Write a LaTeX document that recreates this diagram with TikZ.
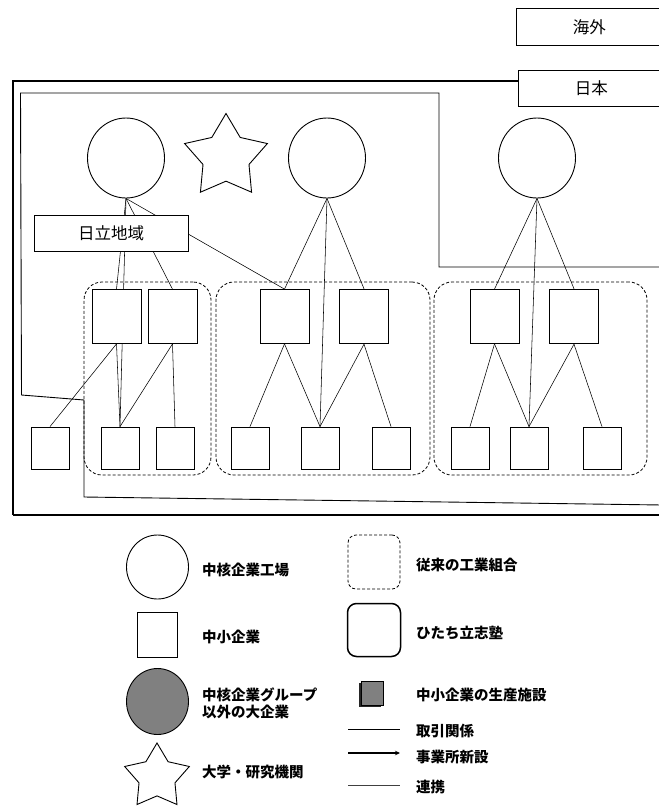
\documentclass[tikz,border=0pt]{standalone}
\usepackage{fontspec}
\newfontfamily\jp{Noto Sans CJK JP}
\usetikzlibrary{shapes.geometric,backgrounds,arrows.meta}
\begin{document}
\begin{tikzpicture}[x=1pt,y=-1pt,
  firm/.style={ellipse,draw,line width=0.9pt,fill=white,minimum width=77pt,minimum height=80pt,inner sep=0pt},
  bigsq/.style={rectangle,draw,line width=0.8pt,fill=white,minimum width=49pt,minimum height=54pt,inner sep=0pt},
  smallsq/.style={rectangle,draw,line width=0.8pt,fill=white,minimum width=38pt,minimum height=42pt,inner sep=0pt},
  ritsu/.style={bigsq,line width=1.4pt},
  grp/.style={rectangle,draw,densely dashed,line width=0.8pt,rounded corners=18pt,inner sep=0pt},
  link/.style={line width=0.55pt},
  region/.style={line width=0.9pt},
  lab/.style={rectangle,draw,line width=0.9pt,fill=white,inner sep=0pt,font=\jp\fontsize{16.5}{16.5}\selectfont},
  leg/.style={font=\jp\bfseries\fontsize{14.5}{17}\selectfont,anchor=west,align=left,inner sep=0pt},
  starshape/.style={star,star points=5,star point ratio=1.8,draw,line width=0.9pt,fill=white,inner sep=0pt},
]
\useasboundingbox (0,0) rectangle (659,807);

% labels overseas / Japan
\node[lab,minimum width=146pt,minimum height=37pt,anchor=north west] (kaigai) at (516,8) {海外};
\node[lab,minimum width=146pt,minimum height=36pt,anchor=north west] (nihon) at (518,70) {日本};

% core firms
\node[firm] (c1) at (126,158) {};
\node[firm] (c2) at (327,158) {};
\node[firm] (c3) at (537,158) {};
\node[starshape,minimum size=87pt] (univ) at (226,157) {};

% groups
\node[grp,minimum width=127pt,minimum height=193pt] (g1) at (147.5,378.5) {};
\node[grp,minimum width=214pt,minimum height=193pt] (g2) at (323,378.5) {};
\node[grp,minimum width=213pt,minimum height=193pt] (g3) at (540.5,378.5) {};

% top squares
\node[bigsq] (A) at (116.5,316.5) {};
\node[bigsq] (B) at (172.5,316.5) {};
\node[bigsq] (C) at (284.5,316.5) {};
\node[ritsu] (D) at (364,316.5) {};
\node[bigsq] (E) at (494.5,316.5) {};
\node[ritsu] (F) at (574,316.5) {};

% bottom squares
\node[smallsq] (L) at (50,448) {};
\node[smallsq] (p1) at (120,448) {};
\node[smallsq] (p2) at (175,448) {};
\node[smallsq] (q1) at (250,448) {};
\node[smallsq] (q2) at (320,448) {};
\node[smallsq] (q3) at (391,448) {};
\node[smallsq] (r1) at (470,448) {};
\node[smallsq] (r2) at (529,448) {};
\node[smallsq] (r3) at (602,448) {};

% Hitachi area label
\node[lab,minimum width=154pt,minimum height=36pt] (hitachi) at (111,233.5) {日立地域};

\begin{scope}[on background layer]
  % Japan outline
  \coordinate (jpTL) at (13,81);
  \draw[line width=1.1pt] (nihon.west |- jpTL) -- (jpTL) -- (13,515);
  \draw[line width=2.6pt] (12.5,515) -- (662,515);
  % Hitachi area outline
  \draw[region] (662,267) -- (439,267) -- (439,93) -- (20.5,93) -- (21.5,395) -- (84,400) -- (84,497) -- (662,505);
  % connectors
  \draw[link] (c1.south) -- (A.north);
  \draw[link] (c1.south) -- (p1.north);
  \draw[link] (c1.south) -- (B.north);
  \draw[link] (c1.south) -- (C.north);
  \draw[link] (A.south) -- (p1.north);
  \draw[link] (A.south) -- (L.north);
  \draw[link] (B.south) -- (p1.north);
  \draw[link] (B.south) -- (p2.north);
  \draw[link] (c2.south) -- (C.north);
  \draw[link] (c2.south) -- (D.north);
  \draw[link] (c2.south) -- (q2.north);
  \draw[link] (C.south) -- (q1.north);
  \draw[link] (C.south) -- (q2.north);
  \draw[link] (D.south) -- (q2.north);
  \draw[link] (D.south) -- (q3.north);
  \draw[link] (c3.south) -- (E.north);
  \draw[link] (c3.south) -- (F.north);
  \draw[link] (c3.south) -- (r2.north);
  \draw[link] (E.south) -- (r1.north);
  \draw[link] (E.south) -- (r2.north);
  \draw[link] (F.south) -- (r2.north);
  \draw[link] (F.south) -- (r3.north);
\end{scope}

% legend left column
\node[ellipse,draw,line width=0.9pt,minimum width=62pt,minimum height=64pt,inner sep=0pt] (lc1) at (157.5,567) {};
\node[leg] (tc1) at (202,570) {中核企業工場};
\node[rectangle,draw,line width=0.8pt,minimum width=40pt,minimum height=45pt,inner sep=0pt] (lsq) at (157,634.5) {};
\node[leg] (tsq) at (202,637) {中小企業};
\node[ellipse,draw,line width=0.9pt,fill=black!50,minimum width=62pt,minimum height=66pt,inner sep=0pt] (lc2) at (157.5,701.5) {};
\node[leg] (tc2) at (202,703) {中核企業グループ\\以外の大企業};
\node[starshape,minimum size=68pt] (lstar) at (157,777) {};
\node[leg] (tstar) at (202,772) {大学・研究機関};

% legend right column
\node[rectangle,draw,densely dashed,line width=0.8pt,rounded corners=8pt,minimum width=52pt,minimum height=54pt,inner sep=0pt] (lgrp) at (374,562) {};
\node[leg] (tgrp) at (416,565) {従来の工業組合};
\node[rectangle,draw,line width=1.5pt,rounded corners=9pt,minimum width=53pt,minimum height=53pt,inner sep=0pt] (lrit) at (374,630) {};
\node[leg] (trit) at (416,633) {ひたち立志塾};
\fill[black!85] (359,683) rectangle (381,707);
\node[rectangle,draw,line width=0.6pt,fill=black!50,minimum width=22pt,minimum height=24pt,inner sep=0pt] (lfac) at (372,693) {};
\node[leg] (tfac) at (416,695) {中小企業の生産施設};
\coordinate (la1) at (348,729);
\coordinate (la2) at (400,729);
\draw[line width=0.9pt] (la1) -- (la2);
\node[leg] (tline) at (416,731) {取引関係};
\coordinate (lb1) at (348,753);
\coordinate (lb2) at (400,753);
\draw[line width=1.1pt,-{Stealth[length=5pt,width=4.5pt]}] (lb1) -- (lb2);
\node[leg] (tarrow) at (416,757) {事業所新設};
\coordinate (lc1a) at (348,785);
\coordinate (lc1b) at (400,785);
\draw[line width=1pt,black!75] (lc1a) -- (lc1b);
\node[leg] (tcoop) at (416,787) {連携};
\end{tikzpicture}
\end{document}
